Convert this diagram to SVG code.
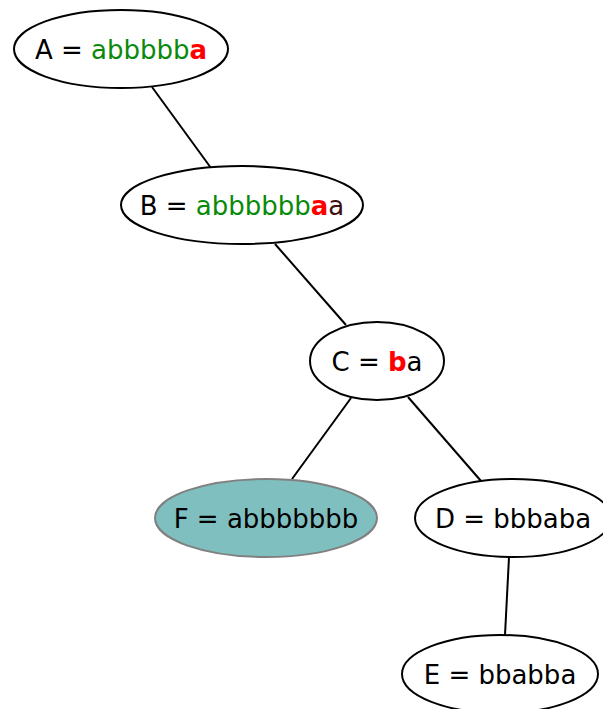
<svg xmlns="http://www.w3.org/2000/svg" width="603" height="709" viewBox="0 0 603 709">
<style>
.n{fill:#ffffff;stroke:#000000;stroke-width:2}
.f{fill:#80bfbf;stroke:#808080;stroke-width:2}
text{font-family:"DejaVu Sans",sans-serif;font-size:26px;fill:#000000;text-anchor:middle}
.g{fill:#0a8a0a}
.r{fill:#ff0000;font-weight:bold}
.d{fill:#401010}
.e{stroke:#000000;stroke-width:2;fill:none}
</style>
<rect width="603" height="709" fill="#ffffff"/>
<g id="edges">
<line class="e" x1="152" y1="87" x2="211" y2="168"/>
<line class="e" x1="275" y1="244" x2="346" y2="325"/>
<line class="e" x1="351" y1="398" x2="292" y2="479"/>
<line class="e" x1="408" y1="397" x2="481" y2="481"/>
<line class="e" x1="509" y1="557" x2="505" y2="635"/>
</g>
<g id="A">
<ellipse class="n" cx="121" cy="49" rx="107" ry="39"/>
<text x="121" y="59">A = <tspan class="g">abbbbb</tspan><tspan class="r">a</tspan></text>
</g>
<g id="B">
<ellipse class="n" cx="242" cy="205" rx="121" ry="39"/>
<text x="242" y="215">B = <tspan class="g">abbbbbb</tspan><tspan class="r">a</tspan><tspan class="d">a</tspan></text>
</g>
<g id="C">
<ellipse class="n" cx="377" cy="361" rx="67" ry="39"/>
<text x="377" y="371">C = <tspan class="r">b</tspan>a</text>
</g>
<g id="F">
<ellipse class="f" cx="266" cy="518" rx="111" ry="39"/>
<text x="266" y="528">F = abbbbbbb</text>
</g>
<g id="D">
<ellipse class="n" cx="513" cy="518" rx="98" ry="39"/>
<text x="513" y="528">D = bbbaba</text>
</g>
<g id="E">
<ellipse class="n" cx="500" cy="674" rx="98" ry="39"/>
<text x="500" y="684">E = bbabba</text>
</g>
</svg>
